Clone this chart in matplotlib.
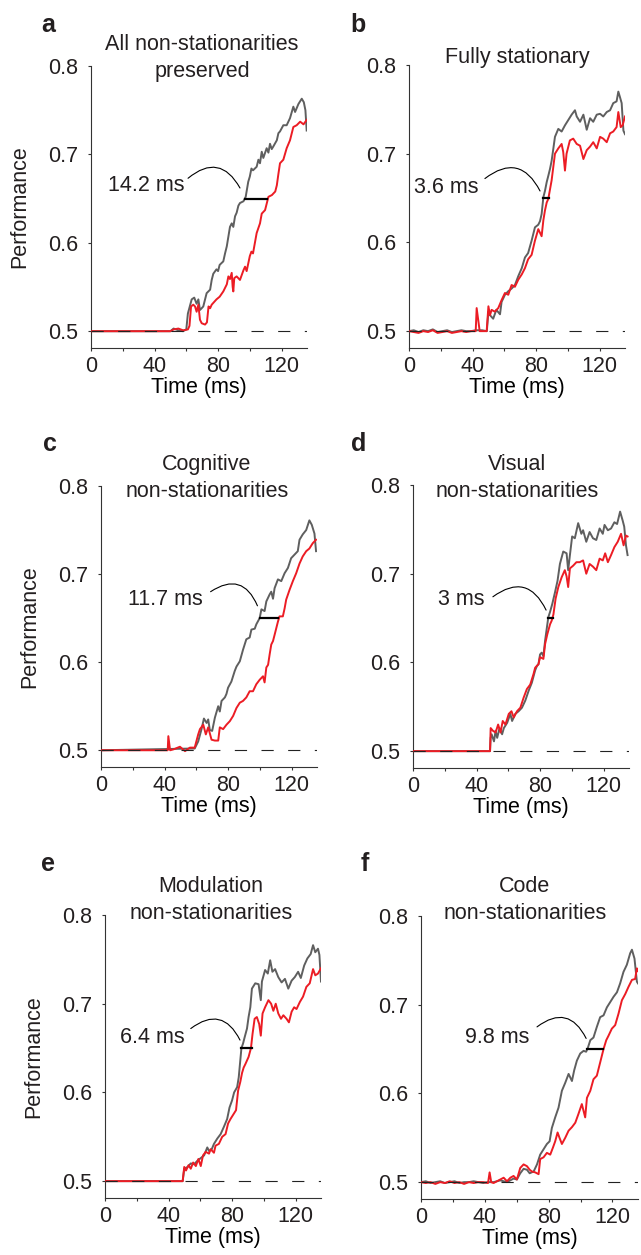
import numpy as np
import matplotlib.pyplot as plt

plt.rcParams['font.family'] = ['Liberation Sans', 'DejaVu Sans']
plt.rcParams['text.color'] = '#231f20'
plt.rcParams['xtick.color'] = '#333333'
plt.rcParams['ytick.color'] = '#333333'
plt.rcParams['xtick.labelcolor'] = '#231f20'
plt.rcParams['ytick.labelcolor'] = '#231f20'

W, H = 641, 1255
GREY = '#5f5f5f'
RED = '#ec1c24'

# ---- data (time in ms, performance) ----
noise_t = [0, 3, 6, 9, 12, 15, 18, 21, 24, 27, 30, 33, 36, 39, 42]

# a: all non-stationarities preserved
a_t_grey = [0, 50, 52, 55, 58, 60, 61, 63.4, 65, 66.5, 67.6, 68.6, 69.7, 70.7, 72.8, 75,
            76, 77, 79, 80, 81, 83.3, 84.4, 85.5, 87.5, 88.6, 89.6, 90.7, 91.7, 92.8, 93.8,
            96, 97.4, 99, 100, 101, 102, 104.3, 105.4, 106.4, 107.5, 108.5, 110.6, 111.7,
            112.7, 113.8, 114.8, 117, 118, 119, 121.1, 123.2, 125.3, 127.4, 128.5, 130.6,
            132.7, 134, 135, 135.8]
a_grey = [0.5, 0.5, 0.503, 0.501, 0.5, 0.502, 0.52, 0.536, 0.538, 0.531, 0.536, 0.524, 0.526,
          0.528, 0.543, 0.547, 0.558, 0.565, 0.57, 0.568, 0.575, 0.579, 0.588, 0.596, 0.618,
          0.622, 0.618, 0.63, 0.634, 0.642, 0.645, 0.647, 0.652, 0.669, 0.675, 0.684, 0.682,
          0.686, 0.694, 0.69, 0.703, 0.696, 0.707, 0.702, 0.712, 0.706, 0.709, 0.716, 0.724,
          0.726, 0.733, 0.733, 0.741, 0.754, 0.748, 0.757, 0.763, 0.759, 0.75, 0.727]
a_t_red = [0, 50, 52, 55, 58, 61, 62, 63, 64.4, 65.5, 66.5, 67.6, 68.6, 69.7, 71.8, 73, 74, 75,
           76, 77, 79, 81, 83.3, 85.5, 86.5, 87.5, 88.6, 89.2, 89.6, 90.2, 91.7, 93.8, 96, 97,
           98, 100, 101, 102, 103.3, 104.3, 106.4, 107.5, 109.6, 111.7, 113.9, 116, 117, 118,
           119, 121.1, 123.2, 125.3, 127.4, 129.5, 131.7, 133.8, 135.8]
a_red = [0.5, 0.5, 0.502, 0.503, 0.501, 0.502, 0.506, 0.528, 0.53, 0.528, 0.522, 0.53, 0.513,
         0.509, 0.5075, 0.51, 0.528, 0.526, 0.53, 0.532, 0.536, 0.539, 0.545, 0.553, 0.562,
         0.559, 0.566, 0.55, 0.545, 0.56, 0.562, 0.558, 0.569, 0.573, 0.568, 0.585, 0.59, 0.588,
         0.601, 0.611, 0.622, 0.633, 0.637, 0.652, 0.654, 0.658, 0.665, 0.678, 0.69, 0.694,
         0.707, 0.716, 0.731, 0.733, 0.737, 0.734, 0.739]

# b: fully stationary
b_t_grey = noise_t + [46, 49, 50, 51, 53, 55, 57.3, 58.3, 60.4, 62.5, 64.6, 66.7, 68.8, 71, 73,
                      75, 77.2, 79.3, 81.4, 82.5, 83.5, 84.6, 85.6, 86.7, 87.7, 88.8, 89.8, 90.9,
                      91.9, 94, 96.1, 98.2, 100.3, 102.4, 104.5, 105.6, 107.7, 109.8, 111.9, 114,
                      116, 118.2, 120.3, 122.3, 124.5, 126.6, 128.6, 130.7, 131.8, 132.8, 133.9,
                      135, 136]
b_grey = [0.5, 0.501, 0.499, 0.501, 0.5, 0.502, 0.499, 0.5, 0.501, 0.499, 0.5, 0.501, 0.5, 0.5,
          0.501,
          0.501, 0.5, 0.522, 0.518, 0.514, 0.524, 0.519, 0.533, 0.541, 0.545, 0.548, 0.552, 0.562,
          0.571, 0.583, 0.588, 0.602, 0.617, 0.62, 0.624, 0.632, 0.651, 0.658, 0.668, 0.675,
          0.683, 0.692, 0.706, 0.719, 0.728, 0.725, 0.732, 0.738, 0.744, 0.749, 0.742, 0.736,
          0.744, 0.727, 0.74, 0.736, 0.744, 0.745, 0.742, 0.747, 0.749, 0.757, 0.759, 0.77,
          0.764, 0.757, 0.726, 0.722]
b_t_red = noise_t + [42.6, 43.7, 44.5, 45.8, 48.9, 50, 51, 52, 54, 56.2, 58.3, 60.4, 62.5, 64.6,
                     66.7, 68.8, 71, 73, 75, 77.2, 79.3, 81.4, 83.5, 84.6, 85.6, 86.7, 87.7, 88.8,
                     89.8, 91.9, 94, 96.1, 97.1, 98.2, 99.2, 101.3, 103.4, 105.6, 107.7, 109.8,
                     111.9, 114, 116, 118.2, 120.3, 122.3, 124.5, 126.6, 128.6, 130.7, 131.8,
                     133.3, 134.5, 136]
b_red = [0.5, 0.499, 0.498, 0.5, 0.499, 0.501, 0.498, 0.499, 0.5, 0.498, 0.499, 0.5, 0.499, 0.5,
         0.5,
         0.526, 0.511, 0.5, 0.5, 0.5, 0.528, 0.518, 0.524, 0.522, 0.526, 0.535, 0.543, 0.541,
         0.552, 0.55, 0.558, 0.564, 0.571, 0.581, 0.586, 0.602, 0.615, 0.607, 0.625, 0.636,
         0.645, 0.649, 0.66, 0.67, 0.7, 0.706, 0.711, 0.702, 0.681, 0.7, 0.715, 0.717, 0.711,
         0.709, 0.694, 0.704, 0.708, 0.713, 0.706, 0.719, 0.717, 0.713, 0.723, 0.725, 0.73,
         0.747, 0.73, 0.732, 0.742]

# c: cognitive non-stationarities
c_t_grey = [0, 59, 61.2, 63.3, 64.8, 66.5, 67.5, 68.5, 70, 71.7, 73.8, 74.8, 75.9, 78, 79, 80,
            82.1, 84.2, 85.3, 87.4, 89.4, 91.5, 93.6, 94.7, 96.8, 97.8, 99.9, 101, 103, 104.1,
            106.2, 107.2, 108.3, 109.3, 111.4, 113.5, 115.6, 117.7, 119.7, 121.8, 123.9, 125,
            127, 129.2, 131.2, 132.7, 134.4, 135.4]
c_grey = [0.5, 0.502, 0.51, 0.524, 0.536, 0.531, 0.535, 0.523, 0.522, 0.537, 0.55, 0.544, 0.556,
          0.56, 0.564, 0.571, 0.578, 0.59, 0.595, 0.601, 0.614, 0.626, 0.628, 0.637, 0.638,
          0.643, 0.65, 0.66, 0.658, 0.669, 0.677, 0.68, 0.672, 0.684, 0.694, 0.692, 0.701,
          0.707, 0.718, 0.722, 0.726, 0.739, 0.745, 0.75, 0.761, 0.756, 0.746, 0.726]
c_t_red = [0, 42, 42.4, 43.5, 45.6, 49.7, 52.9, 56, 59, 61.2, 62.3, 64.4, 66, 67.5, 69.6, 71.7,
           73.8, 74.8, 76.9, 79, 81.1, 83.2, 85.3, 87.4, 89.4, 91.5, 93.6, 95.7, 97.8, 99.9, 102,
           103, 104.1, 105.2, 106.2, 107.2, 108.3, 109.3, 111.4, 112.4, 114.5, 115.6, 116.6,
           118.7, 120.8, 122.9, 125, 127, 129.2, 131.2, 133.3, 135.4]
c_red = [0.5, 0.5, 0.516, 0.5, 0.501, 0.504, 0.499, 0.503, 0.503, 0.518, 0.524, 0.529, 0.518,
         0.526, 0.512, 0.511, 0.511, 0.526, 0.524, 0.529, 0.533, 0.539, 0.548, 0.554, 0.556,
         0.56, 0.567, 0.567, 0.575, 0.58, 0.584, 0.577, 0.594, 0.597, 0.609, 0.62, 0.624, 0.631,
         0.646, 0.652, 0.652, 0.661, 0.671, 0.682, 0.692, 0.701, 0.712, 0.72, 0.726, 0.729,
         0.735, 0.739]

# d: visual non-stationarities
d_t_grey = [0, 48.5, 48.9, 49.5, 51, 52, 53, 54.5, 56.1, 57.2, 59.3, 61.3, 62.4, 64.4, 66.5,
            68.6, 70.7, 72.8, 74.8, 76.9, 78, 79, 80, 81, 82.1, 83.2, 84.2, 85.2, 86.3, 87.7,
            89.4, 91, 92.5, 94.6, 96.7, 97.7, 98.8, 100.2, 101.9, 104, 106, 107.1, 109.1, 111.2,
            113.3, 115.4, 117.5, 119.5, 120.6, 122.7, 124.7, 126.8, 128.5, 130.4, 132, 133,
            134.1, 135.1]
d_grey = [0.5, 0.5, 0.515, 0.519, 0.511, 0.523, 0.515, 0.526, 0.519, 0.526, 0.532, 0.542, 0.534,
          0.542, 0.545, 0.549, 0.557, 0.568, 0.577, 0.591, 0.596, 0.598, 0.609, 0.611, 0.607,
          0.625, 0.638, 0.651, 0.657, 0.666, 0.679, 0.692, 0.711, 0.725, 0.723, 0.704, 0.721,
          0.742, 0.74, 0.757, 0.745, 0.749, 0.736, 0.747, 0.74, 0.738, 0.751, 0.745, 0.755,
          0.749, 0.751, 0.758, 0.756, 0.77, 0.76, 0.753, 0.732, 0.721]
d_t_red = [0, 48.5, 48.9, 50.3, 52, 53.6, 55.1, 56.5, 58.2, 60.3, 62, 63.4, 65.5, 67.6, 69.6,
           71.7, 73.8, 75.9, 76.9, 79, 80, 82.1, 83.2, 84.6, 86.3, 87.3, 88.4, 89.8, 91.5, 93.6,
           95.6, 96.7, 97.7, 98.8, 100.8, 102.9, 105, 107.1, 109.1, 111.2, 113.3, 115.4, 117.5,
           119.5, 121, 122.7, 124.7, 126.8, 128.9, 131, 132.6, 134.1, 135.1]
d_red = [0.5, 0.5, 0.526, 0.523, 0.521, 0.53, 0.521, 0.534, 0.53, 0.542, 0.545, 0.538, 0.545,
         0.549, 0.56, 0.57, 0.575, 0.587, 0.594, 0.598, 0.606, 0.604, 0.621, 0.632, 0.643,
         0.647, 0.654, 0.672, 0.685, 0.696, 0.704, 0.697, 0.685, 0.706, 0.709, 0.713, 0.713,
         0.715, 0.7, 0.711, 0.708, 0.704, 0.717, 0.715, 0.723, 0.713, 0.721, 0.73, 0.736,
         0.745, 0.732, 0.743, 0.742]

# e: modulation non-stationarities
e_t_grey = [0, 48.9, 49.9, 52, 54, 56.1, 58.2, 60.3, 62.4, 64.4, 65.5, 67.2, 68.6, 70.7, 72.8,
            74.8, 76.9, 78.4, 80, 81.3, 83.2, 84.2, 85.9, 86.9, 87.9, 89.4, 90.4, 91.5, 92.5,
            94.6, 96.7, 98.1, 98.8, 100.8, 102.5, 104, 105.4, 107.1, 109.1, 111.2, 113.3, 115.4,
            117.5, 119.5, 121.6, 123.3, 125.4, 127.4, 129.5, 131, 132.4, 134.1, 135, 136]
e_grey = [0.5, 0.5, 0.514, 0.516, 0.52, 0.519, 0.523, 0.526, 0.529, 0.538, 0.534, 0.536, 0.542,
          0.548, 0.553, 0.561, 0.57, 0.583, 0.591, 0.6, 0.606, 0.617, 0.65, 0.655, 0.662, 0.672,
          0.685, 0.696, 0.717, 0.723, 0.722, 0.704, 0.725, 0.738, 0.734, 0.749, 0.736, 0.739,
          0.73, 0.724, 0.728, 0.717, 0.726, 0.73, 0.736, 0.729, 0.743, 0.751, 0.756, 0.766,
          0.758, 0.762, 0.755, 0.725]
e_t_red = [0, 48.9, 49.9, 51, 52.6, 54, 55.5, 57.2, 58.8, 60.3, 61.7, 63.4, 65.5, 66.5, 68.6,
           69.6, 71.7, 73.8, 75.9, 77.5, 79, 81.1, 82.5, 83.8, 85.2, 86.3, 87.3, 88.4, 89.4,
           90.4, 91.9, 92.9, 94.2, 95.6, 97.1, 98.1, 99.2, 100.8, 102.9, 104.6, 106, 107.5,
           109.1, 110.8, 112.3, 114.3, 115.8, 117.5, 119.1, 120.6, 122.7, 124.7, 126.8, 128.9,
           131, 132.4, 134.1, 136]
e_red = [0.5, 0.5, 0.516, 0.512, 0.518, 0.514, 0.521, 0.517, 0.525, 0.517, 0.529, 0.533, 0.531,
         0.536, 0.532, 0.54, 0.542, 0.55, 0.553, 0.565, 0.57, 0.576, 0.58, 0.602, 0.612, 0.622,
         0.628, 0.632, 0.636, 0.64, 0.65, 0.666, 0.683, 0.685, 0.677, 0.664, 0.689, 0.696,
         0.704, 0.7, 0.692, 0.7, 0.689, 0.683, 0.687, 0.683, 0.679, 0.691, 0.696, 0.694, 0.702,
         0.708, 0.719, 0.723, 0.739, 0.732, 0.734, 0.74]

# f: code non-stationarities
f_t_grey = noise_t + [45.5, 49.7, 53.9, 58, 60.1, 62.2, 64.3, 66.4, 68.1, 70.6, 72.7, 74.7, 76.8,
                      78.9, 80.6, 82, 84.1, 86.2, 88.3, 90.4, 92.5, 94.6, 96, 97.7, 99.8, 101.9,
                      103.5, 104.5, 106.1, 108.1, 110.2, 112.3, 114.4, 116.5, 118.6, 120.7,
                      122.8, 124.8, 126.9, 129, 131.1, 132.2, 133.8, 135.3, 136]
f_grey = [0.5, 0.501, 0.499, 0.5, 0.501, 0.499, 0.5, 0.501, 0.499, 0.5, 0.5, 0.501, 0.5, 0.499,
          0.5,
          0.5, 0.502, 0.5, 0.504, 0.503, 0.51, 0.515, 0.514, 0.51, 0.512, 0.52, 0.531, 0.537,
          0.543, 0.546, 0.561, 0.573, 0.584, 0.603, 0.612, 0.622, 0.614, 0.626, 0.637, 0.645,
          0.648, 0.647, 0.651, 0.66, 0.663, 0.675, 0.686, 0.688, 0.697, 0.703, 0.709, 0.714,
          0.724, 0.737, 0.745, 0.758, 0.762, 0.752, 0.726, 0.724]
f_t_red = noise_t + [43, 44, 45.5, 49.7, 51.8, 53.9, 56, 58, 60.1, 62.2, 64.3, 66.4, 68.1, 69.5,
                     71.6, 73.7, 74.7, 76.8, 78.9, 81, 82.7, 84.1, 85.6, 86.8, 88.3, 90.4, 92.5,
                     94.6, 96.7, 98.7, 100.8, 102.9, 104, 106.1, 108.1, 110.2, 112.3, 114.4,
                     116.1, 117.5, 119.6, 121.7, 123.8, 125.9, 128, 130, 132.2, 134.2, 135.3,
                     136]
f_red = [0.5, 0.499, 0.5, 0.498, 0.5, 0.499, 0.501, 0.499, 0.5, 0.498, 0.5, 0.499, 0.5, 0.5,
         0.499,
         0.511, 0.5, 0.499, 0.503, 0.505, 0.501, 0.505, 0.507, 0.503, 0.516, 0.52, 0.518, 0.514,
         0.512, 0.511, 0.509, 0.526, 0.528, 0.533, 0.531, 0.539, 0.546, 0.556, 0.55, 0.543,
         0.55, 0.558, 0.562, 0.567, 0.577, 0.588, 0.573, 0.595, 0.603, 0.616, 0.62, 0.635,
         0.65, 0.66, 0.665, 0.673, 0.677, 0.69, 0.705, 0.712, 0.72, 0.728, 0.729, 0.741, 0.738]

delays = [14.2, 3.6, 11.7, 3, 6.4, 9.8]
letters = ['a', 'b', 'c', 'd', 'e', 'f']
titles = [['All non-stationarities', 'preserved'], ['Fully stationary'],
          ['Cognitive', 'non-stationarities'], ['Visual', 'non-stationarities'],
          ['Modulation', 'non-stationarities'], ['Code', 'non-stationarities']]
series = [(a_t_grey, a_grey, a_t_red, a_red), (b_t_grey, b_grey, b_t_red, b_red),
          (c_t_grey, c_grey, c_t_red, c_red), (d_t_grey, d_grey, d_t_red, d_red),
          (e_t_grey, e_grey, e_t_red, e_red), (f_t_grey, f_grey, f_t_red, f_red)]
x_ticks = [0, 20, 40, 60, 80, 100, 120]
x_ticklabels = ['0', '', '40', '', '80', '', '120']
y_ticks = [0.5, 0.6, 0.7, 0.8]
criterion = 0.65

# ---- layout (pixels) ----
boxes = [(91, 66, 307, 348), (409, 65, 625, 348), (101, 486, 317, 767),
         (413, 485, 629, 768), (105, 915, 321, 1198), (421, 916, 638, 1199)]
letter_pos = [(41, 32), (350, 32), (43, 451), (351, 451), (41, 871), (361, 871)]
title_pos = [(202, [50, 77]), (517, [63]), (207, [470, 497]), (517, [470, 497]),
             (211, [892, 919]), (525, [892, 919])]
ylabel_x = [20, None, 30, None, 34, None]
# label left / centre, arc start, arc end (data coords)
notes = [((10.7, 0.665), (61.1, 0.673), (93.8, 0.662)),
         ((3.1, 0.662), (47.8, 0.672), (82.5, 0.658)),
         ((17.3, 0.671), (69.0, 0.680), (98.5, 0.664)),
         ((15.6, 0.671), (50.3, 0.674), (83.8, 0.659)),
         ((9.4, 0.662), (54.0, 0.672), (85.0, 0.659)),
         ((27.8, 0.663), (72.7, 0.675), (103.5, 0.662))]

fig = plt.figure(figsize=(W / 100, H / 100), dpi=100)
FS = 15.5

for k in range(6):
    l, t, r, b = boxes[k]
    ax = fig.add_axes([l / W, 1 - b / H, (r - l) / W, (b - t) / H])
    tg, vg, tr, vr = series[k]
    ax.plot(tg, vg, color=GREY, lw=1.4, zorder=2)
    ax.plot(tr, vr, color=RED, lw=1.4, zorder=3)
    ax.axhline(0.5, color='#222222', lw=0.8, ls=(0, (11, 13)), zorder=4)

    # delay bar at criterion, starting where the grey curve crosses it
    tg_a, vg_a = np.array(tg), np.array(vg)
    i = int(np.argmax(vg_a >= criterion))
    x0 = np.interp(criterion, [vg_a[i - 1], vg_a[i]], [tg_a[i - 1], tg_a[i]])
    ax.plot([x0, x0 + delays[k]], [criterion, criterion], color='black', lw=1.6, zorder=5)

    (tx, ty), arc_a, arc_b = notes[k]
    ax.text(tx, ty, f'{delays[k]:g} ms', ha='left', va='center', fontsize=FS)
    ax.annotate('', xy=arc_b, xytext=arc_a,
                arrowprops=dict(arrowstyle='-', connectionstyle='arc3,rad=-0.6',
                                color='black', lw=0.8, shrinkA=0, shrinkB=0))

    ax.set_xlim(0, 136)
    ax.set_ylim(0.481, 0.8)
    ax.set_xticks(x_ticks)
    ax.set_xticklabels(x_ticklabels)
    ax.set_yticks(y_ticks)
    ax.set_yticklabels([f'{y:.1f}' for y in y_ticks])
    ax.tick_params(direction='out', length=2.5, width=0.8, labelsize=FS)
    ax.tick_params(axis='x', pad=3.5)
    ax.tick_params(axis='y', pad=7)
    for s in ['top', 'right']:
        ax.spines[s].set_visible(False)
    for s in ['left', 'bottom']:
        ax.spines[s].set_color('#333333')
        ax.spines[s].set_linewidth(0.8)
    ax.set_xlabel('Time (ms)', fontsize=FS, labelpad=0)

    if ylabel_x[k] is not None:
        fig.text(ylabel_x[k] / W, 1 - (t + b) / 2 / H, 'Performance', rotation=90,
                 ha='center', va='center', fontsize=FS)

    lx, ly = letter_pos[k]
    fig.text(lx / W, 1 - ly / H, letters[k], fontsize=18, fontweight='bold',
             ha='left', va='baseline')
    cx, ys = title_pos[k]
    for line, yy in zip(titles[k], ys):
        fig.text(cx / W, 1 - yy / H, line, fontsize=FS, ha='center', va='baseline')

fig.savefig('out.png', dpi=100)
